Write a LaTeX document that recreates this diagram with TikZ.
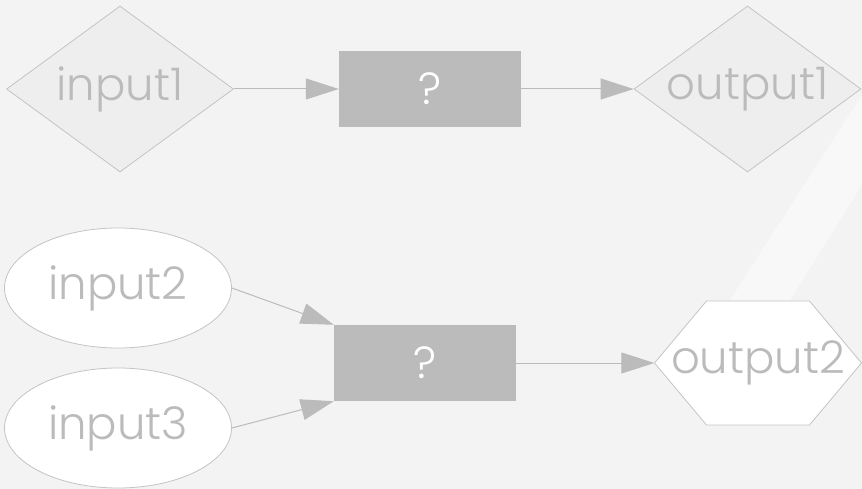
\documentclass[tikz,border=0pt]{standalone}
\usepackage{fontspec}
\setmainfont{Poppins}[UprightFont={* Light}]
\usetikzlibrary{shapes.geometric,arrows.meta,calc}
\definecolor{bgcol}{HTML}{F3F3F3}
\definecolor{bandcol}{HTML}{F8F8F8}
\definecolor{edgecol}{HTML}{BBBBBB}
\definecolor{rimcol}{HTML}{C4C4C4}
\definecolor{dfill}{HTML}{EEEEEE}
\definecolor{txtcol}{HTML}{BBBBBB}
\tikzset{
  lbl/.style={font=\fontsize{45}{45}\selectfont, text=txtcol},
  diam/.style={diamond, draw=rimcol, fill=dfill, line width=0.8pt, inner sep=-60pt,
    minimum width=227pt, minimum height=166pt, lbl},
  oval/.style={ellipse, draw=rimcol, fill=white, line width=0.8pt, inner sep=-30pt,
    minimum width=227pt, minimum height=120pt, lbl},
  procbox/.style={rectangle, fill=edgecol, draw=none, inner sep=0pt,
    minimum width=182pt, minimum height=76pt, lbl, text=white},
  hexframe/.style={draw=rimcol, fill=white, line width=0.8pt},
  hexlabel/.style={rectangle, draw=none, inner sep=0pt,
    minimum width=207pt, minimum height=123pt, lbl},
  link/.style={draw=edgecol, line width=1pt, -{Triangle[length=33pt,width=21pt]}}
}
\begin{document}
\begin{tikzpicture}[x=1pt,y=-1pt]
  % canvas
  \fill[bgcol] (0,0) rectangle (862,489);
  \useasboundingbox (0,0) rectangle (862,489);
  \fill[bandcol] (862,95) -- (730,300) -- (790,300) -- (862,185) -- cycle;

  % first row
  \node[diam] (input1) at (120,89) {input1};
  \node[procbox] (proc1) at (430,89) {?};
  \node[diam] (output1) at (747.5,89) {output1};
  \draw[link] (input1.east) -- (proc1.west);
  \draw[link] (proc1.east) -- (output1.west);

  % second row
  \node[oval] (input2) at (118,288) {input2};
  \node[oval] (input3) at (118,428) {input3};
  \node[procbox] (proc2) at (425,363) {?};
  \coordinate (hc) at (758,363);
  \draw[hexframe] ($(hc)+(-103.5,0)$) -- ++(52,-62) -- ++(103,0) -- ++(52,62)
    -- ++(-52,62) -- ++(-103,0) -- cycle;
  \node[hexlabel] (output2) at (hc) {output2};
  \draw[link] (input2.east) -- (proc2.north west);
  \draw[link] (input3.east) -- (proc2.south west);
  \draw[link] (proc2.east) -- (output2.west);
\end{tikzpicture}
\end{document}
